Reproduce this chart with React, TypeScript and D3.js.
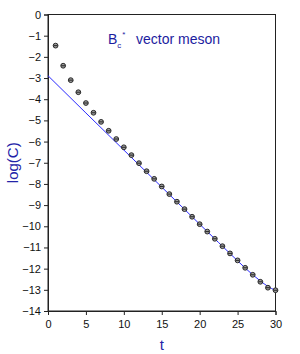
// Effective-mass style plot: log of the Bc* correlator vs time slice, with fit

import React, { useEffect, useRef } from "react"
import * as d3 from "d3"

const timeSlices = [1, 2, 3, 4, 5, 6, 7, 8, 9, 10, 11, 12, 13, 14, 15, 16, 17, 18, 19, 20, 21, 22, 23, 24, 25, 26, 27, 28, 29, 30]
const logC = [
  -1.47, -2.42, -3.10, -3.67, -4.18, -4.64, -5.07, -5.49, -5.88, -6.27,
  -6.64, -7.02, -7.40, -7.76, -8.12, -8.48, -8.84, -9.19, -9.55, -9.90,
  -10.25, -10.59, -10.94, -11.28, -11.61, -11.96, -12.29, -12.62, -12.90, -13.02,
]

// fitted curve
const fitT = [0, 5, 10, 15, 20, 25, 26, 27, 28, 29, 30]
const fitLogC = [-2.89, -4.65, -6.40, -8.15, -9.90, -11.63, -11.97, -12.29, -12.58, -12.84, -13.03]

const xTicks = [0, 5, 10, 15, 20, 25, 30]
const yTicks = [0, -1, -2, -3, -4, -5, -6, -7, -8, -9, -10, -11, -12, -13, -14]

const labelColor = "#2323a8"

export default function App() {
  const ref = useRef<SVGSVGElement>(null)

  useEffect(() => {
    const svg = d3.select(ref.current)
    svg.selectAll("*").remove()

    const x = d3.scaleLinear().domain([0, 30]).range([48, 275.5])
    const y = d3.scaleLinear().domain([0, -14]).range([14.5, 311])

    const font = "'Liberation Sans', Arial, sans-serif"

    // frame
    svg.append("rect")
      .attr("x", x(0)).attr("y", y(0))
      .attr("width", x(30) - x(0)).attr("height", y(-14) - y(0))
      .attr("fill", "none").attr("stroke", "#222").attr("stroke-width", 1)

    // axes
    const xAxis = svg.append("g")
      .attr("transform", `translate(0,${y(-14)})`)
      .call(d3.axisBottom(x).tickValues(xTicks).tickSize(4).tickPadding(5))
    const yAxis = svg.append("g")
      .attr("transform", `translate(${x(0)},0)`)
      .call(d3.axisLeft(y).tickValues(yTicks).tickSize(4).tickPadding(3))

    for (const ax of [xAxis, yAxis]) {
      ax.select(".domain").attr("stroke", "#222")
      ax.selectAll(".tick line").attr("stroke", "#222")
      ax.selectAll(".tick text")
        .attr("fill", "#111")
        .style("font-family", font)
        .style("font-size", "11px")
    }

    // fit curve
    const line = d3.line<number>()
      .x((d, i) => x(fitT[i]))
      .y(d => y(d))
      .curve(d3.curveMonotoneX)
    svg.append("path")
      .datum(fitLogC)
      .attr("d", line)
      .attr("fill", "none")
      .attr("stroke", "#2a2aff")
      .attr("stroke-width", 1)

    // data points
    const pts = svg.append("g")
    timeSlices.forEach((t, i) => {
      const cx = x(t)
      const cy = y(logC[i])
      pts.append("circle")
        .attr("cx", cx).attr("cy", cy).attr("r", 2.4)
        .attr("fill", "#9a9a9a").attr("stroke", "#1a1a1a").attr("stroke-width", 0.9)
      pts.append("line")
        .attr("x1", cx - 2).attr("x2", cx + 2)
        .attr("y1", cy).attr("y2", cy)
        .attr("stroke", "#1a1a1a").attr("stroke-width", 0.9)
    })

    // title
    const title = svg.append("text")
      .attr("x", 108).attr("y", 44)
      .attr("fill", "#1c1ca0")
      .style("font-family", font)
      .style("font-size", "14px")
    title.append("tspan").text("B")
    title.append("tspan").attr("dy", 4).style("font-size", "8px").text("c")
    title.append("tspan").attr("dy", -11).attr("dx", 1).style("font-size", "8px").text("*")
    title.append("tspan").attr("dy", 7).attr("x", 136).text("vector meson")

    // axis labels
    svg.append("text")
      .attr("transform", `translate(18,${y(-7)}) rotate(-90)`)
      .attr("text-anchor", "middle")
      .attr("fill", labelColor)
      .style("font-family", font)
      .style("font-size", "15px")
      .text("log(C)")

    svg.append("text")
      .attr("x", x(15)).attr("y", 350)
      .attr("text-anchor", "middle")
      .attr("fill", labelColor)
      .style("font-family", font)
      .style("font-size", "15px")
      .text("t")
  }, [])

  return (
    <svg
      ref={ref}
      width={300}
      height={354}
      style={{ position: "absolute", left: 0, top: 0, background: "#fff" }}
    />
  )
}
